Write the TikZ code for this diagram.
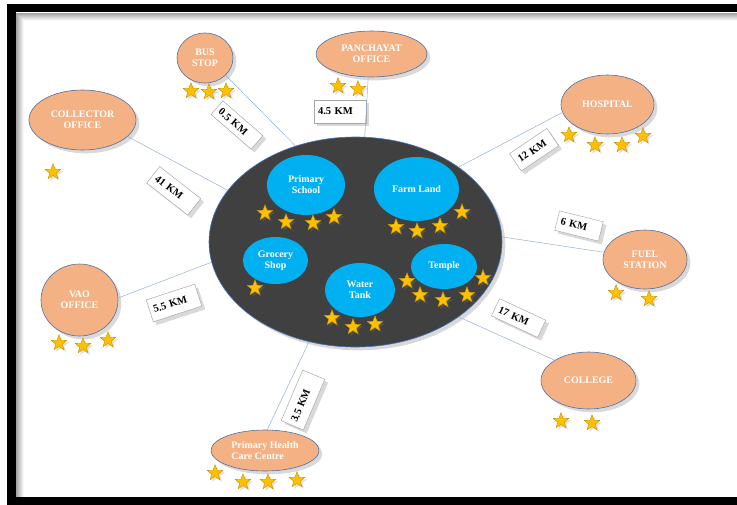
\documentclass[tikz,border=0pt]{standalone}
\usepackage{fontspec}
\setmainfont{Liberation Serif}
\usepackage{tikz}
\usetikzlibrary{shapes.geometric,shadows}
\definecolor{placefill}{HTML}{F4B183}
\definecolor{placeline}{HTML}{4A6FA5}
\definecolor{spotfill}{HTML}{00B0F0}
\definecolor{townfill}{HTML}{404040}
\definecolor{townline}{HTML}{4472C4}
\definecolor{starfill}{HTML}{FFC000}
\definecolor{starline}{HTML}{C09000}
\definecolor{distline}{HTML}{A6A6A6}
\definecolor{roadline}{HTML}{8FAADC}
\tikzstyle{place}=[ellipse, draw=placeline, line width=0.5pt, fill=placefill, text=white, font=\bfseries\fontsize{8.5}{9.5}\selectfont, align=center, inner sep=0pt, drop shadow={opacity=0.3, shadow xshift=0.1cm, shadow yshift=-0.1cm}]
\tikzstyle{town}=[ellipse, draw=townline, line width=0.5pt, fill=townfill, inner sep=0pt, drop shadow={opacity=0.3, shadow xshift=0.1cm, shadow yshift=-0.1cm}]
\tikzstyle{spot}=[ellipse, fill=spotfill, text=white, font=\bfseries\fontsize{8.5}{9.5}\selectfont, align=center, inner sep=0pt]
\tikzstyle{pointstar}=[star, star points=5, star point ratio=2.4, fill=starfill, draw=starline, line width=0.3pt, minimum size=0.5cm, inner sep=0pt, drop shadow={opacity=0.25, shadow xshift=0.06cm, shadow yshift=-0.06cm}]
\tikzstyle{dist}=[draw=distline, line width=0.4pt, fill=white, font=\bfseries\fontsize{9}{10}\selectfont, align=left, inner xsep=0.12cm, inner ysep=0pt, drop shadow={opacity=0.3, shadow xshift=0.1cm, shadow yshift=-0.1cm}]
\tikzstyle{road}=[draw=roadline, line width=0.4pt]

\begin{document}
\begin{tikzpicture}[x=0.03cm, y=-0.03cm]
	\useasboundingbox (0,0) rectangle (737,504);
	\begin{scope}
		\foreach \i [evaluate=\i as \op using 0.42-0.05*\i] in {1,...,8}
			\draw [black, opacity=\op, line width=0.03cm] (15+\i,504) -- (15+\i,12+\i) -- (760,12+\i);
		\draw [black, line width=0.24cm] (11.5,8) rectangle (760,501);
	\end{scope}
	\begin{scope}
		\node (town) at (355.5,242)[town, minimum width=8.79cm, minimum height=6.3cm] {};
		\node (school) at (306,185)[spot, minimum width=2.34cm, minimum height=1.8cm] {Primary\\School};
		\node (farm) at (416.5,189)[spot, minimum width=2.55cm, minimum height=1.92cm] {Farm Land};
		\node (grocery) at (275.5,260.5)[spot, minimum width=1.95cm, minimum height=1.41cm] {Grocery\\Shop};
		\node (tank) at (360,290)[spot, minimum width=2.1cm, minimum height=1.62cm] {Water\\Tank};
		\node (temple) at (444,266.5)[spot, minimum width=1.98cm, minimum height=1.35cm] {Temple};

		\node (bus) at (205,58)[place, minimum width=1.68cm, minimum height=1.5cm] {BUS\\STOP};
		\node (collector) at (82.5,120)[place, minimum width=3.21cm, minimum height=1.8cm] {COLLECTOR\\OFFICE};
		\node (panchayat) at (371.5,54)[place, minimum width=3.33cm, minimum height=1.38cm] {PANCHAYAT\\OFFICE};
		\node (hospital) at (607.5,104.5)[place, minimum width=2.79cm, minimum height=1.77cm] {HOSPITAL};
		\node (fuel) at (645,259.5)[place, minimum width=2.52cm, minimum height=1.77cm] {FUEL\\STATION};
		\node (college) at (588.5,380.5)[place, minimum width=2.85cm, minimum height=1.71cm] {COLLEGE};
		\node (vao) at (79.5,300)[place, minimum width=2.31cm, minimum height=2.16cm] {VAO\\OFFICE};
		\node (phc) at (265,450.5)[place, align=left, minimum width=3.24cm, minimum height=1.23cm] {Primary Health\\Care Centre};

		\node (d05) at (237,125)[dist, rotate=-41, text width=1.35cm, minimum height=0.54cm] {0.5 KM};
		\node (d41) at (173.7,190.8)[dist, rotate=-38, text width=1.32cm, minimum height=0.63cm] {41 KM};
		\node (d45) at (340,111.5)[dist, text width=1.32cm, minimum height=0.69cm] {4.5 KM};
		\node (d12) at (534,149.7)[dist, rotate=34, text width=1.11cm, minimum height=0.63cm] {12 KM};
		\node (d6) at (579,226)[dist, rotate=-14, text width=1.11cm, minimum height=0.6cm] {6 KM};
		\node (d17) at (518.6,318)[dist, rotate=-25, text width=1.29cm, minimum height=0.57cm] {17 KM};
		\node (d55) at (174,303)[dist, rotate=18, text width=1.29cm, minimum height=0.69cm] {5.5 KM};
		\node (d35) at (303,400)[dist, rotate=67, text width=1.41cm, minimum height=0.72cm] {3.5 KM};

		\foreach \p [count=\i] in {(265,213),(286,222),(313,223),(334,217),
			(396,227),(417,231),(440,226),(462,212),(255,288),
			(332,318),(353,327),(375,324),
			(407,281),(420,295),(443,300),(467,295),(483,278),
			(191,91),(209,92),(226,91),(338,86),(358,89),(53,172),
			(569,135),(595,145),(622,145),(643,136),(616,293),(649,299),
			(561,421),(592,423),(59,343),(83,346),(108,340),
			(215,473),(243,482),(268,482),(297,480)}
			\node (s\i) at \p [pointstar] {};
	\end{scope}
	\begin{scope}
		\path [road] (bus.-40) edge (town.122);
		\path [road] (collector.-20) edge (town.158);
		\path [road] (panchayat.-98) edge (town.85);
		\path [road] (hospital.190) edge (town.36);
		\path [road] (fuel.170) edge (town.2);
		\path [road] (college.149) edge (town.-36);
		\path [road] (vao.3) edge (town.188);
		\path [road] (phc.84) edge (town.245);
	\end{scope}
\end{tikzpicture}
\end{document}
